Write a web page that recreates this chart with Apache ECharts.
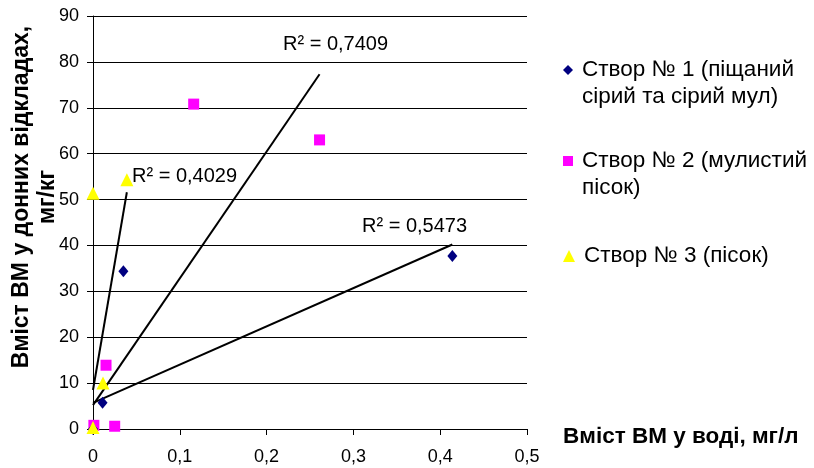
<!DOCTYPE html>
<html>
<head>
<meta charset="utf-8">
<script src="https://cdn.jsdelivr.net/npm/echarts@6/dist/echarts.min.js"></script>
<style>
html, body { margin: 0; padding: 0; background: #fff; }
#chart { width: 814px; height: 468px; }
</style>
</head>
<body>
<div id="chart"></div>
<script>
// точки по створах [вміст у воді, вміст у донних відкладах]
var stvir1 = [[0, 0], [0.011, 5.7], [0.035, 34.4], [0.414, 37.7]];
var stvir2 = [[0.001, 0.8], [0.015, 13.9], [0.025, 0.6], [0.116, 70.8], [0.261, 63]];
var stvir3 = [[0, 0.3], [0.0115, 10], [0, 51.4], [0.039, 54.3]];

// лінії тренду (кінці)
var trend1 = [[0, 5.7], [0.414, 40.2]];
var trend2 = [[0, 5.2], [0.261, 77.3]];
var trend3 = [[0, 8.5], [0.039, 51.6]];

var seriesNames = ['Створ № 1 (піщаний\nсірий та сірий мул)', 'Створ № 2 (мулистий\nпісок)', 'Створ № 3 (пісок)'];
var r2Labels = ['R² = 0,5473', 'R² = 0,7409', 'R² = 0,4029'];

var font = 'Liberation Sans, Arial, sans-serif';
var chart = echarts.init(document.getElementById('chart'));

function trendSerie(name, data) {
    return {
        name: name,
        type: 'line',
        data: data,
        showSymbol: false,
        silent: true,
        lineStyle: { color: '#000', width: 2 },
        z: 1
    };
}

// для двох рядків додаємо порожній рядок зверху, щоб значок стояв навпроти першого
function legendFor(name, top, twoLines, size) {
    return {
        data: [name],
        left: 563,
        top: top,
        padding: 0,
        itemWidth: size,
        itemHeight: size,
        selectedMode: false,
        formatter: function(n) { return twoLines ? '\n' + n : n; },
        textStyle: {
            fontFamily: font,
            fontSize: 22.5,
            lineHeight: 27,
            color: '#000',
            padding: [0, 0, 0, 4]
        }
    };
}

chart.setOption({
    animation: false,
    backgroundColor: '#fff',
    grid: { left: 93, top: 16, right: 287, bottom: 39 },
    legend: [
        legendFor(seriesNames[0], 29.5, true, 10),
        legendFor(seriesNames[1], 120.5, true, 10),
        legendFor(seriesNames[2], 242.5, false, 12)
    ],
    xAxis: {
        type: 'value',
        min: 0,
        max: 0.5,
        interval: 0.1,
        axisLine: { show: true, lineStyle: { color: '#000', width: 1 } },
        axisTick: { show: true, length: 6, lineStyle: { color: '#000' } },
        splitLine: { show: false },
        axisLabel: {
            margin: 19,
            fontFamily: font,
            fontSize: 18,
            color: '#000',
            formatter: function(v) { return String(v).replace('.', ','); }
        }
    },
    yAxis: {
        type: 'value',
        min: 0,
        max: 90,
        interval: 10,
        axisLine: { show: true, lineStyle: { color: '#000', width: 1 } },
        axisTick: { show: true, length: 6, lineStyle: { color: '#000' } },
        splitLine: { show: true, lineStyle: { color: '#000', width: 1 } },
        axisLabel: { margin: 14, fontFamily: font, fontSize: 18, color: '#000' }
    },
    graphic: [
        {
            type: 'text',
            x: 35, y: 197,
            rotation: Math.PI / 2,
            style: {
                text: 'Вміст ВМ у донних відкладах,\nмг/кг',
                font: 'bold 23px ' + font,
                lineHeight: 26,
                fill: '#000',
                align: 'center',
                verticalAlign: 'middle'
            }
        },
        {
            type: 'text',
            x: 563, y: 437,
            style: {
                text: 'Вміст ВМ у воді, мг/л',
                font: 'bold 22.5px ' + font,
                fill: '#000',
                verticalAlign: 'middle'
            }
        },
        {
            type: 'text', x: 362, y: 226,
            style: { text: r2Labels[0], font: '20px ' + font, fill: '#000', verticalAlign: 'middle' }
        },
        {
            type: 'text', x: 283, y: 44,
            style: { text: r2Labels[1], font: '20px ' + font, fill: '#000', verticalAlign: 'middle' }
        },
        {
            type: 'text', x: 132, y: 176,
            style: { text: r2Labels[2], font: '20px ' + font, fill: '#000', verticalAlign: 'middle' }
        }
    ],
    series: [
        trendSerie('Лінійний (1)', trend1),
        trendSerie('Лінійний (2)', trend2),
        trendSerie('Лінійний (3)', trend3),
        {
            name: seriesNames[0],
            type: 'scatter',
            data: stvir1,
            symbol: 'diamond',
            symbolSize: [10, 12],
            itemStyle: { color: '#000080', opacity: 1 },
            z: 3
        },
        {
            name: seriesNames[1],
            type: 'scatter',
            data: stvir2,
            symbol: 'rect',
            symbolSize: 11,
            itemStyle: { color: '#ff00ff', opacity: 1 },
            z: 2
        },
        {
            name: seriesNames[2],
            type: 'scatter',
            data: stvir3,
            symbol: 'triangle',
            symbolSize: 13,
            itemStyle: { color: '#ffff00', opacity: 1 },
            z: 4
        }
    ]
});
</script>
</body>
</html>
